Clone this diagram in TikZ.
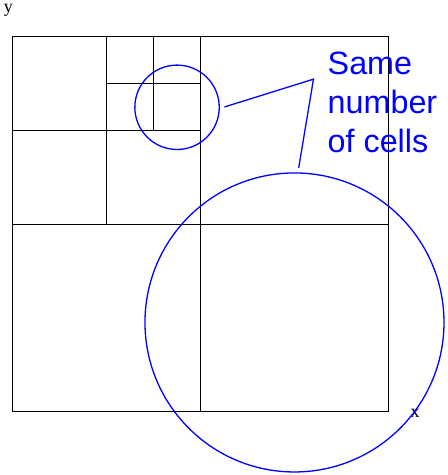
\documentclass[tikz,border=0pt]{standalone}
\usepackage{fontspec}
\setmainfont{Liberation Serif}
\newfontfamily\notefont{Liberation Sans}
\usepackage{tikz}
\usetikzlibrary{positioning}
\tikzset{
  grid/.style={draw=black, line width=1pt},
  ring/.style={circle, draw=blue, line width=1.3pt, inner sep=0pt},
  pointer/.style={draw=blue, line width=1.3pt},
  note/.style={font=\notefont\fontsize{32.3}{39}\selectfont, text=blue, align=left, inner sep=0pt},
  axislbl/.style={font=\fontsize{18}{20}\selectfont, inner sep=0pt},
  quadtree/.style={x=46.875pt, y=46.875pt}
}

\begin{document}
\begin{tikzpicture}[quadtree]
  \useasboundingbox (-0.277,-1.344) rectangle (9.259,8.789);

  % Outer square and first split
  \draw[grid] (0,0) rectangle (8,8);
  \draw[grid] (0,4) -- (8,4);
  \draw[grid] (4,0) -- (4,8);

  % Top-left quadrant split
  \draw[grid] (0,6) -- (4,6);
  \draw[grid] (2,4) -- (2,8);

  % Finer split near the small circle
  \draw[grid] (2,7) -- (4,7);
  \draw[grid] (3,6) -- (3,8);

  % Axis labels
  \node[axislbl] (ylbl) at (-0.1,8.56) {y};
  \node[axislbl] (xlbl) at (8.58,-0.03) {x};

  % Circles with the same number of cells
  \node[ring, minimum size=84.4pt] (small) at (3.5,6.5) {};
  \node[ring, minimum size=299pt] (big) at (6.005,1.91) {};

  % Note and its pointer lines
  \node[note, anchor=north west] (note) at (6.71,7.689) {Same\\number\\of cells};
  \coordinate (apex) at (6.41,7.1);
  \coordinate (p1) at (4.51,6.507);
  \coordinate (p2) at (6.095,5.21);
  \draw[pointer] (p1) -- (apex) -- (p2);
\end{tikzpicture}
\end{document}
